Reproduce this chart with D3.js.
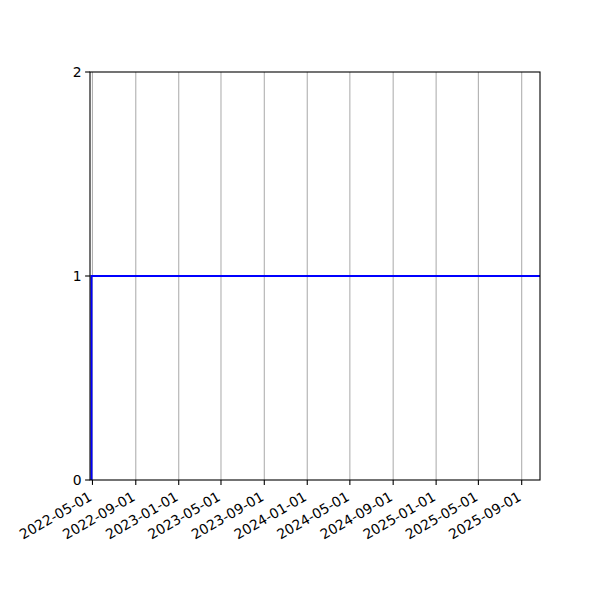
<!DOCTYPE html>
<html><head><meta charset="utf-8">
<script src="https://cdn.jsdelivr.net/npm/d3@7"></script>
<style>body{margin:0;background:#fff}svg{display:block}text{font-family:"DejaVu Sans",sans-serif}</style>
</head><body><div id="c"></div>
<script>
const dates = ["2022-04-28", "2022-04-28", "2025-10-23"];
const values = [0, 1, 1];
const xDomain = ["2022-04-24", "2025-10-23"];
const yDomain = [0, 2];
const xTickLabels = ["2022-05-01","2022-09-01","2023-01-01","2023-05-01","2023-09-01","2024-01-01","2024-05-01","2024-09-01","2025-01-01","2025-05-01","2025-09-01"];
const yTickLabels = [0, 1, 2];

const W = 600, H = 600;
const m = {l: 90, r: 540, t: 72, b: 480};
const parse = d3.utcParse("%Y-%m-%d");
const svg = d3.select("#c").append("svg").attr("width", W).attr("height", H);
const x = d3.scaleUtc().domain(xDomain.map(parse)).range([m.l, m.r]);
const y = d3.scaleLinear().domain(yDomain).range([m.b, m.t]);
const fs = 13.9;

// grid
svg.append("g").selectAll("line").data(xTickLabels).join("line")
  .attr("x1", d => x(parse(d))).attr("x2", d => x(parse(d)))
  .attr("y1", m.t).attr("y2", m.b)
  .attr("stroke", "#b0b0b0").attr("stroke-width", 1.1);

// line
const pts = dates.map((d, i) => [x(parse(d)), y(values[i])]);
svg.append("path").attr("d", d3.line()(pts)).attr("fill", "none")
  .attr("stroke", "#0000ff").attr("stroke-width", 2.1);

// frame
svg.append("rect").attr("x", m.l).attr("y", m.t).attr("width", m.r - m.l).attr("height", m.b - m.t)
  .attr("fill", "none").attr("stroke", "#000").attr("stroke-width", 1.1);

// x axis ticks
const xg = svg.append("g");
xTickLabels.forEach(d => {
  const px = x(parse(d));
  xg.append("line").attr("x1", px).attr("x2", px).attr("y1", m.b).attr("y2", m.b + 4.9)
    .attr("stroke", "#000").attr("stroke-width", 1.1);
  xg.append("text").attr("text-anchor", "end")
    .attr("transform", `translate(${px + 0.5},${m.b + 19.5}) rotate(-30)`)
    .attr("font-size", fs).attr("fill", "#000").text(d);
});

// y axis ticks
const yg = svg.append("g");
yTickLabels.forEach(v => {
  const py = y(v);
  yg.append("line").attr("x1", m.l - 4.9).attr("x2", m.l).attr("y1", py).attr("y2", py)
    .attr("stroke", "#000").attr("stroke-width", 1.1);
  yg.append("text").attr("text-anchor", "end").attr("x", m.l - 8.5).attr("y", py)
    .attr("dy", "0.35em").attr("font-size", fs).attr("fill", "#000").text(v);
});
</script></body></html>
